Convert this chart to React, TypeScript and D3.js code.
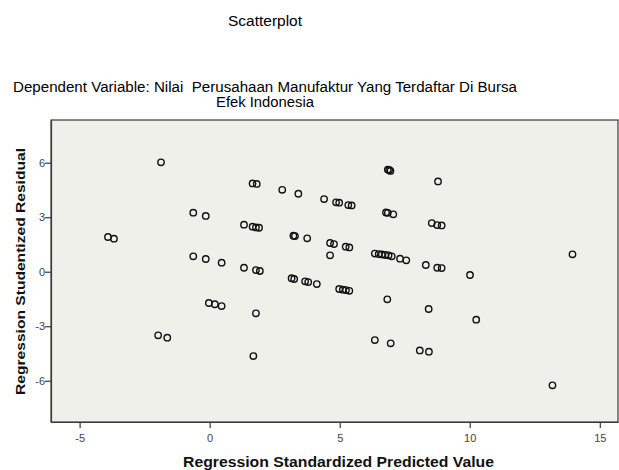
import { useRef, useEffect } from 'react';
import * as d3 from 'd3';

const WIDTH = 619;
const HEIGHT = 470;
const PLOT = { left: 51, top: 120, right: 618, bottom: 422 };
const FONT = '"Liberation Sans", Arial, sans-serif';

const TITLE = 'Scatterplot';
const SUBTITLE = ['Dependent Variable: Nilai  Perusahaan Manufaktur Yang Terdaftar Di Bursa', 'Efek Indonesia'];
const X_LABEL = 'Regression Standardized Predicted Value';
const Y_LABEL = 'Regression Studentized Residual';

const xTicks = [-5, 0, 5, 10, 15];
const yTicks = [-6, -3, 0, 3, 6];

const predicted = [
	-3.91, -3.68, -1.87, -1.98, -1.63, -0.63, -0.15, -0.63, -0.15, 0.46,
	-0.03, 0.20, 0.46, 1.32, 1.65, 1.78, 1.90, 1.65, 1.81, 1.32,
	1.78, 1.93, 1.78, 1.68, 2.79, 3.41, 4.40, 4.86, 4.98, 5.33,
	5.46, 6.85, 6.90, 6.95, 8.78, 6.78, 6.85, 7.06, 8.54, 8.75,
	8.92, 3.22, 3.28, 3.75, 4.63, 4.78, 5.23, 5.37, 4.63, 6.35,
	6.50, 6.62, 6.75, 6.88, 7.00, 7.32, 7.56, 8.31, 8.75, 8.92,
	10.01, 13.95, 3.15, 3.25, 3.67, 3.79, 4.12, 4.98, 5.12, 5.24,
	5.37, 6.83, 8.42, 6.35, 6.96, 8.08, 8.43, 10.25, 13.18,
];
const residual = [
	1.91, 1.82, 6.02, -3.50, -3.63, 3.25, 3.07, 0.85, 0.70, 0.50,
	-1.72, -1.79, -1.89, 2.59, 2.48, 2.44, 2.42, 4.86, 4.83, 0.22,
	0.09, 0.04, -2.29, -4.64, 4.51, 4.29, 4.00, 3.82, 3.80, 3.67,
	3.65, 5.62, 5.60, 5.55, 4.97, 3.26, 3.24, 3.16, 2.68, 2.57,
	2.55, 1.98, 1.96, 1.84, 1.58, 1.52, 1.38, 1.34, 0.90, 1.00,
	0.97, 0.95, 0.92, 0.90, 0.85, 0.72, 0.63, 0.37, 0.22, 0.20,
	-0.18, 0.96, -0.36, -0.40, -0.53, -0.57, -0.68, -0.95, -0.99, -1.01,
	-1.05, -1.52, -2.05, -3.76, -3.94, -4.33, -4.40, -2.64, -6.25,
];

const App = () => {
	const ref = useRef<SVGSVGElement>(null);

	useEffect(() => {
		const svg = d3.select(ref.current);
		svg.selectAll('*').remove();

		const x = d3.scaleLinear().domain([-6.1, 15.7]).range([PLOT.left, PLOT.right]);
		const y = d3.scaleLinear().domain([-8.27, 8.35]).range([PLOT.bottom, PLOT.top]);

		svg.append('rect')
			.attr('width', WIDTH)
			.attr('height', HEIGHT)
			.attr('fill', '#ffffff');

		// titles (the source image is a bit stretched sideways, hence textLength)
		svg.append('text')
			.attr('x', 265).attr('y', 25.5)
			.attr('text-anchor', 'middle')
			.attr('font-size', 14)
			.attr('fill', '#000')
			.attr('textLength', 74)
			.attr('lengthAdjust', 'spacingAndGlyphs')
			.text(TITLE);

		const subLengths = [504, 98];
		SUBTITLE.forEach((line, i) => {
			svg.append('text')
				.attr('x', 265).attr('y', 91.5 + i * 15.5)
				.attr('text-anchor', 'middle')
				.attr('font-size', 14)
				.attr('fill', '#000')
				.attr('textLength', subLengths[i])
				.attr('lengthAdjust', 'spacingAndGlyphs')
				.style('white-space', 'pre')
				.text(line);
		});

		// plot background + frame
		svg.append('rect')
			.attr('x', PLOT.left).attr('y', PLOT.top)
			.attr('width', PLOT.right - PLOT.left)
			.attr('height', PLOT.bottom - PLOT.top)
			.attr('fill', '#f0f0eb')
			.attr('stroke', '#3a3a3a')
			.attr('stroke-width', 1.2);

		const fmt = (d: any) => d < 0 ? `-${Math.abs(d)}` : `${d}`;

		const xAxis = svg.append('g')
			.attr('transform', `translate(0, ${PLOT.bottom})`)
			.call(d3.axisBottom(x).tickValues(xTicks).tickSize(6).tickSizeOuter(0).tickFormat(fmt));
		const yAxis = svg.append('g')
			.attr('transform', `translate(${PLOT.left}, 0)`)
			.call(d3.axisLeft(y).tickValues(yTicks).tickSize(6).tickSizeOuter(0).tickFormat(fmt));

		[xAxis, yAxis].forEach(a => {
			a.select('.domain').attr('stroke', '#3a3a3a').attr('stroke-width', 1.2);
			a.selectAll('line').attr('stroke', '#3a3a3a').attr('stroke-width', 1.2);
			a.selectAll('text')
				.attr('font-family', FONT)
				.attr('font-size', 11)
				.attr('fill', '#444');
		});
		xAxis.selectAll('text').attr('dy', '1.0em');
		yAxis.selectAll('text').attr('x', -6);

		// points
		svg.append('g')
			.selectAll('circle')
			.data(predicted.map((p, i) => [p, residual[i]]))
			.join('circle')
			.attr('cx', d => x(d[0]))
			.attr('cy', d => y(d[1]))
			.attr('r', 3.2)
			.attr('fill', 'none')
			.attr('stroke', '#111')
			.attr('stroke-width', 1.4);

		// axis titles
		svg.append('text')
			.attr('x', 338.5).attr('y', 466.5)
			.attr('text-anchor', 'middle')
			.attr('font-size', 14)
			.attr('font-weight', 'bold')
			.attr('fill', '#111')
			.attr('textLength', 311)
			.attr('lengthAdjust', 'spacingAndGlyphs')
			.text(X_LABEL);

		svg.append('text')
			.attr('transform', `translate(25, 271.5) rotate(-90)`)
			.attr('text-anchor', 'middle')
			.attr('font-size', 13)
			.attr('font-weight', 'bold')
			.attr('fill', '#111')
			.attr('textLength', 247)
			.attr('lengthAdjust', 'spacingAndGlyphs')
			.text(Y_LABEL);
	});

	return (
		<svg
			ref={ref}
			width={WIDTH}
			height={HEIGHT}
			fontFamily={FONT}
			style={{ position: 'absolute', left: 0, top: 0 }}
		/>
	);
};

export default App;
